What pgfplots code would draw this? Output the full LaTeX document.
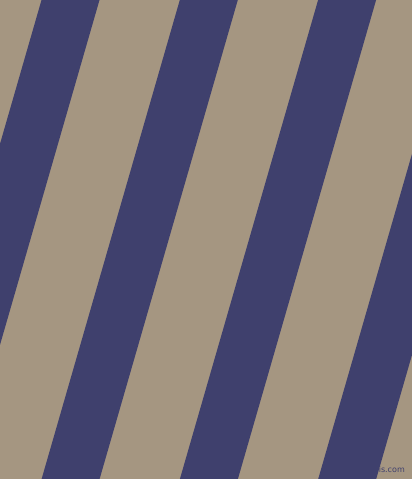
\documentclass[border=0pt]{standalone}
\usepackage{pgfplots}
\pgfplotsset{compat=1.18}
\usepackage{fontspec}
\setsansfont{DejaVu Sans}
\definecolor{beige}{RGB}{165,150,129}
\definecolor{navy}{RGB}{63,64,109}
\begin{document}
\begin{tikzpicture}
\begin{axis}[
  width=412pt, height=479pt, scale only axis,
  xmin=0, xmax=412, ymin=0, ymax=479, y dir=reverse,
  hide axis, clip=true,
]
\addplot[fill=beige, draw=none] coordinates {(0,0) (412,0) (412,479) (0,479)} -- cycle;
\addplot[fill=navy, draw=none] coordinates {(41.5,0) (99.5,0) (-38.7,479) (-96.7,479)} -- cycle;
\addplot[fill=navy, draw=none] coordinates {(179.8,0) (237.8,0) (99.6,479) (41.6,479)} -- cycle;
\addplot[fill=navy, draw=none] coordinates {(318.1,0) (376.1,0) (237.9,479) (179.9,479)} -- cycle;
\addplot[fill=navy, draw=none] coordinates {(456.4,0) (514.4,0) (376.2,479) (318.2,479)} -- cycle;
\node[anchor=south east, inner sep=0pt, font=\fontsize{8}{9}\selectfont\sffamily, text=navy] at (axis cs:405,474) {pixlis.com};
\end{axis}
\pgfresetboundingbox
\path (current axis.south west) rectangle (current axis.north east);
\end{tikzpicture}
\end{document}
